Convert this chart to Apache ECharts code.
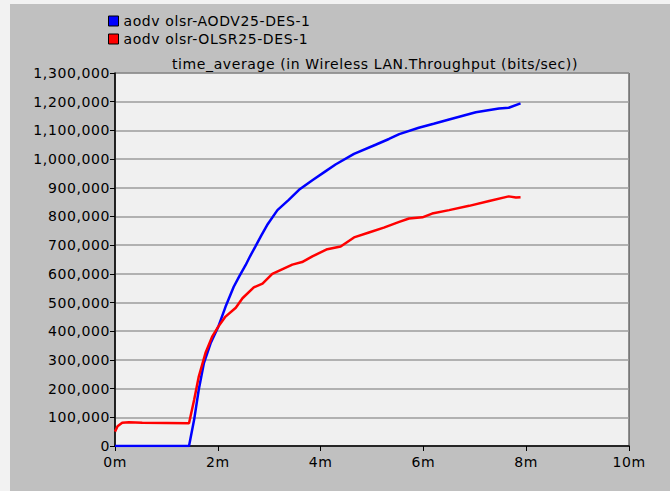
<!DOCTYPE html>
<html>
<head>
<meta charset="utf-8">
<script src="https://cdn.jsdelivr.net/npm/echarts@6/dist/echarts.min.js"></script>
<style>
html,body{margin:0;padding:0;background:#f2f2f2;}
#chart{width:670px;height:491px;}
#chart text{letter-spacing:0.6px;}
</style>
</head>
<body>
<div id="chart"></div>
<script>
// x values in minutes, y values in bits/sec
const seriesNames = ['aodv olsr-AODV25-DES-1', 'aodv olsr-OLSR25-DES-1'];
const titleText = 'time_average (in Wireless LAN.Throughput (bits/sec))';
const xTicks = [0, 2, 4, 6, 8, 10];

const aodvData = [
  [0, 0], [1.44, 0], [1.54, 92000], [1.63, 197000], [1.73, 289000], [1.86, 358000],
  [2.01, 416000], [2.15, 485000], [2.31, 555000], [2.42, 592000], [2.54, 630000],
  [2.63, 662000], [2.73, 695000], [2.85, 735000], [2.96, 770000], [3.16, 822000],
  [3.38, 858000], [3.58, 893000], [3.84, 926000], [4.10, 958000], [4.29, 981000],
  [4.65, 1018000], [5.07, 1050000], [5.33, 1070000], [5.53, 1087000], [5.91, 1109000],
  [6.20, 1123000], [6.50, 1138000], [7.02, 1163000], [7.47, 1176000], [7.66, 1179000],
  [7.89, 1194000]
];

const olsrData = [
  [0, 50000], [0.05, 69000], [0.14, 81000], [0.27, 83000], [0.53, 81000], [1.0, 80000],
  [1.44, 79000], [1.54, 161000], [1.63, 242000], [1.76, 324000], [1.89, 381000],
  [2.01, 416000], [2.15, 451000], [2.35, 482000], [2.48, 515000], [2.70, 553000],
  [2.87, 566000], [3.06, 600000], [3.45, 632000], [3.64, 641000], [3.84, 661000],
  [4.13, 686000], [4.39, 695000], [4.65, 727000], [4.94, 744000], [5.23, 761000],
  [5.53, 781000], [5.72, 793000], [5.98, 797000], [6.17, 810000], [6.50, 822000],
  [6.89, 837000], [7.28, 854000], [7.66, 870000], [7.80, 866000], [7.89, 867000]
];

const FONT = 'DejaVu Sans';
const chart = echarts.init(document.getElementById('chart'), null, {renderer: 'svg'});
chart.setOption({
  animation: false,
  backgroundColor: '#f2f2f2',
  textStyle: {fontFamily: FONT},
  graphic: [{
    type: 'rect', z: -10, silent: true,
    shape: {x: 10, y: 4, width: 660, height: 487},
    style: {fill: '#c0c0c0'}
  }],
  title: {
    text: titleText,
    left: 370, top: 52,
    textAlign: 'center',
    textStyle: {fontFamily: FONT, fontSize: 14, fontWeight: 'normal', color: '#000'}
  },
  legend: {
    orient: 'vertical',
    left: 103, top: 9,
    itemGap: 4,
    itemWidth: 10, itemHeight: 10,
    icon: 'rect',
    itemStyle: {borderColor: '#000', borderWidth: 1},
    textStyle: {fontFamily: FONT, fontSize: 14, color: '#000'},
    data: seriesNames
  },
  grid: {
    left: 115, right: 41, top: 73, bottom: 45,
    show: true, backgroundColor: '#f0f0f0', borderColor: '#303030', borderWidth: 1
  },
  xAxis: {
    type: 'value', min: 0, max: 10, interval: 2,
    axisLine: {show: true, lineStyle: {color: '#000', width: 1.5}},
    axisTick: {show: true, length: 5, lineStyle: {color: '#000'}},
    splitLine: {show: false},
    axisLabel: {
      color: '#000', fontSize: 14, margin: 9, fontFamily: FONT,
      formatter: v => xTicks.includes(v) ? v + 'm' : ''
    }
  },
  yAxis: {
    type: 'value', min: 0, max: 1300000, interval: 100000,
    axisLine: {show: true, lineStyle: {color: '#000', width: 1.5}},
    axisTick: {show: true, length: 5, lineStyle: {color: '#000'}},
    splitLine: {show: true, lineStyle: {color: '#9c9c9c', width: 1.5}},
    axisLabel: {
      color: '#000', fontSize: 14, margin: 5, fontFamily: FONT,
      formatter: v => v.toLocaleString('en-US')
    }
  },
  series: [
    {
      name: seriesNames[0], type: 'line', data: aodvData,
      showSymbol: false, color: '#0000ff',
      lineStyle: {color: '#0000ff', width: 2.5}, z: 3
    },
    {
      name: seriesNames[1], type: 'line', data: olsrData,
      showSymbol: false, color: '#ff0000',
      lineStyle: {color: '#ff0000', width: 2.5}, z: 4
    }
  ]
});
</script>
</body>
</html>
